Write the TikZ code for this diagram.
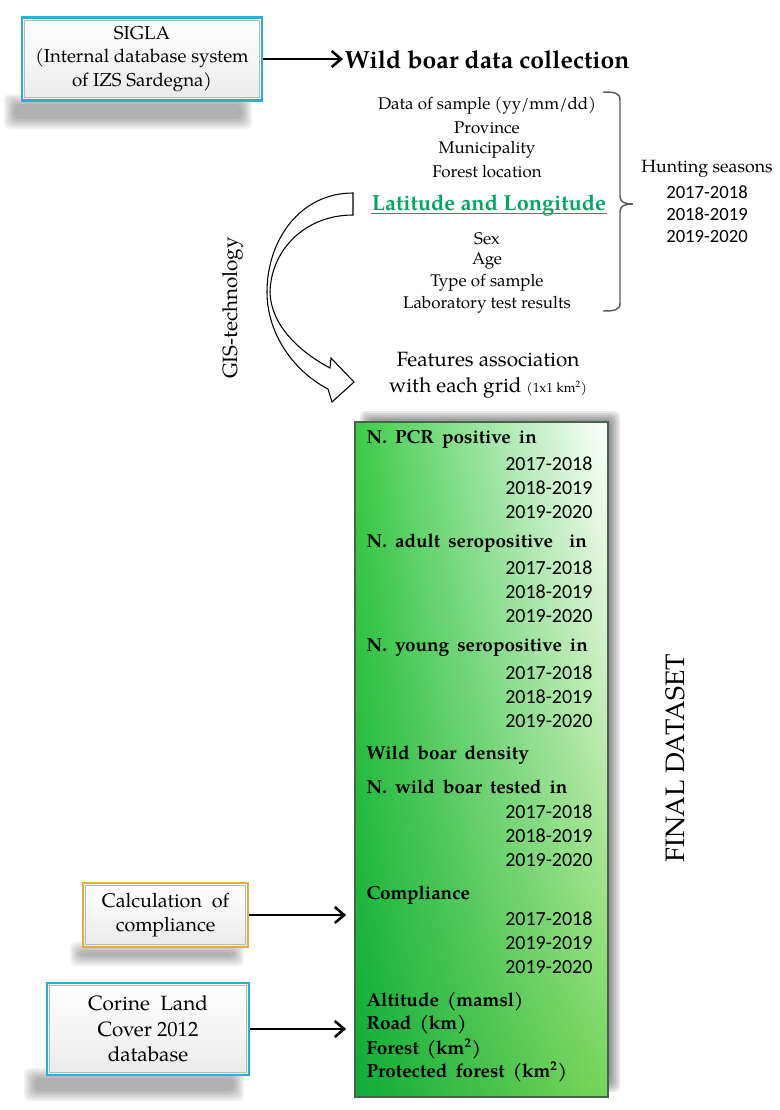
\documentclass[tikz,border=0pt]{standalone}
\usepackage{fontspec}
\setmainfont{texgyrepagella}[Extension=.otf,UprightFont=*-regular,BoldFont=*-bold,ItalicFont=*-italic,BoldItalicFont=*-bolditalic]
\newfontfamily\headfont{texgyrepagella-bold}[Extension=.otf,WordSpace=1.7]
\newfontfamily\yearfont{Carlito}
\usetikzlibrary{arrows.meta,shadings,fit}

\definecolor{sigcyan}{RGB}{38,178,214}
\definecolor{calcgold}{RGB}{226,176,64}
\definecolor{latgreen}{RGB}{0,168,96}
\definecolor{boxgreenA}{RGB}{60,204,70}
\definecolor{boxgreenB}{RGB}{14,172,56}
\definecolor{boxgreenC}{RGB}{118,214,88}
\definecolor{boxedge}{RGB}{70,100,72}
\definecolor{bracegray}{RGB}{90,90,90}

% soft shadow made of stacked transparent rectangles
\newcommand{\softshadow}[5][0.06]{%
  \foreach \k in {0,...,5}{\fill[black,opacity=#1,rounded corners=4pt] ({#2+\k*2},{#3+\k*2}) rectangle ({#4-\k*2},{#5-\k*2});}}

\tikzset{every picture/.style={line width=0.75pt}}
\tikzset{
  srcbox/.style={draw=#1, line width=1.6pt, top color=white, bottom color=gray!16, align=center, inner sep=0pt,
    font=\fontsize{14}{17.5}\selectfont,
    path picture={\draw[gray!55,line width=0.6pt] ([shift={(2pt,-2pt)}]path picture bounding box.north west) rectangle ([shift={(-2pt,2pt)}]path picture bounding box.south east);}},
  conn/.style={line width=1.9pt, -{Straight Barb[length=7pt,width=12pt]}},
  listtxt/.style={font=\fontsize{12.7}{15}\selectfont, inner sep=0pt},
  seasontxt/.style={font=\yearfont\fontsize{14}{16}\selectfont, inner sep=0pt},
  headtxt/.style={font=\headfont\fontsize{14.2}{16}\selectfont, anchor=west, inner sep=0pt},
  yeartxt/.style={font=\yearfont\fontsize{15}{17}\selectfont, anchor=east, inner sep=0pt},
}

\begin{document}
\begin{tikzpicture}[x=0.75pt,y=0.75pt,yscale=-1,xscale=1]
\useasboundingbox (0,0) rectangle (780,1110);

%Shadows
\softshadow{4}{94}{252}{129}
\softshadow{70}{942}{244}{966}
\softshadow{24}{1068}{244}{1101}
\softshadow[0.09]{360}{411}{620}{1092}

% Text Node
\node (sigla) [srcbox=sigcyan, minimum width=180pt, minimum height=62.25pt] at (142,59) {SIGLA\\(Internal database system\\of IZS Sardegna)};
% Text Node
\node (wild) [anchor=west, font=\bfseries\fontsize{18.6}{20}\selectfont, inner sep=1pt] at (343,60) {Wild boar data collection};
\draw[conn] (sigla.east) -- (sigla.east -| wild.west);

% Text Node
\node (date) [listtxt] at (487,106) {Data of sample (yy/mm/dd)};
\node (prov) [listtxt] at (487,128) {Province};
\node (muni) [listtxt] at (487,150) {Municipality};
\node (floc) [listtxt] at (487,172) {Forest location};
\node (latlon) [font=\bfseries\fontsize{16.3}{18}\selectfont, text=latgreen, inner sep=0pt, anchor=base] at (489,210) {Latitude and Longitude};
\draw[latgreen, line width=1pt] ([yshift=2.4pt]latlon.base west) -- ([yshift=2.4pt]latlon.base east);
\node (sex) [listtxt] at (487,239) {Sex};
\node (age) [listtxt] at (487,261) {Age};
\node (type) [listtxt] at (487,283) {Type of sample};
\node (lab) [listtxt] at (487,305) {Laboratory test results};

%Brace
\draw[bracegray, line width=1.1pt] (603,92) .. controls (615,92) and (620,93) .. (620,100) -- (620,196) .. controls (620,202) and (624,204) .. (633,204) .. controls (624,204) and (620,206) .. (620,212) -- (620,303) .. controls (620,310) and (615,311) .. (603,311);

% Text Node
\node (hunt) [listtxt, font=\fontsize{13.3}{15}\selectfont] at (707,169) {Hunting seasons};
\node (hunta) [seasontxt] at (707,192) {2017-2018};
\node (huntb) [seasontxt] at (707,214) {2018-2019};
\node (huntc) [seasontxt] at (707,237) {2019-2020};

%Curved arrow
\draw[line width=0.8pt, fill=white] (353,193) .. controls (300,193) and (267,240) .. (267,292) .. controls (267,335) and (295,372) .. (328,389) -- (332,402) -- (354,382) -- (331,358) -- (330,368) .. controls (300,352) and (271,326) .. (270,292) .. controls (271,250) and (305,215) .. (353,215) -- cycle;
% Text Node
\node (gis) [rotate=90, font=\fontsize{15.5}{18}\selectfont, inner sep=0pt] at (233,308) {GIS-technology};

% Text Node
\node (feat) [align=center, font=\fontsize{15.5}{19.5}\selectfont, inner sep=0pt] at (488,375) {Features association\\with each grid {\fontsize{10}{12}\selectfont(1x1 km\textsuperscript{2})}};

%Final dataset box
\node (final) [fit={(355,422) (608,1097)}, inner sep=0pt, draw=boxedge, line width=1.4pt, upper left=boxgreenA, upper right=white, lower left=boxgreenB, lower right=boxgreenC] {};

% Text Node
\node (pcr) [headtxt] at (366,439) {N. PCR positive in};
\node (pcra) [yeartxt] at (593,464) {2017-2018};
\node (pcrb) [yeartxt] at (593,488) {2018-2019};
\node (pcrc) [yeartxt] at (593,512) {2019-2020};
\node (adult) [headtxt] at (366,543) {N. adult seropositive~ in};
\node (adulta) [yeartxt] at (593,568) {2017-2018};
\node (adultb) [yeartxt] at (593,592) {2018-2019};
\node (adultc) [yeartxt] at (593,616) {2019-2020};
\node (young) [headtxt] at (366,648) {N. young seropositive in};
\node (younga) [yeartxt] at (593,673) {2017-2018};
\node (youngb) [yeartxt] at (593,697) {2018-2019};
\node (youngc) [yeartxt] at (593,721) {2019-2020};
\node (dens) [headtxt] at (366,755) {Wild boar density};
\node (test) [headtxt] at (366,787) {N. wild boar tested in};
\node (testa) [yeartxt] at (593,812) {2017-2018};
\node (testb) [yeartxt] at (593,836) {2018-2019};
\node (testc) [yeartxt] at (593,860) {2019-2020};
\node (compl) [headtxt] at (366,895) {Compliance};
\node (compla) [yeartxt] at (593,919) {2017-2018};
\node (complb) [yeartxt] at (593,943) {2019-2019};
\node (complc) [yeartxt] at (593,967) {2019-2020};
\node (alt) [headtxt] at (366,1002) {Altitude (mamsl)};
\node (road) [headtxt] at (366,1025) {Road (km)};
\node (forest) [headtxt] at (366,1049) {Forest (km\textsuperscript{2})};
\node (protect) [headtxt] at (366,1072) {Protected forest (km\textsuperscript{2})};

% Text Node
\node (finaltxt) [rotate=90, font=\fontsize{20}{22}\selectfont, inner sep=0pt] at (675,758) {FINAL DATASET};

% Text Node
\node (calc) [srcbox=calcgold, minimum width=123.75pt, minimum height=48pt, font=\fontsize{14.8}{18.5}\selectfont] at (165.5,915) {Calculation~ of\\compliance};
\draw[conn] (calc.east) -- ([xshift=-6pt]calc.east -| final.west);
% Text Node
\node (corine) [srcbox=sigcyan, minimum width=151.5pt, minimum height=69pt, font=\fontsize{15.5}{19}\selectfont] at (148,1029) {Corine~ Land\\Cover 2012\\database};
\draw[conn] (corine.east) -- ([xshift=-6pt]corine.east -| final.west);

\end{tikzpicture}
\end{document}
